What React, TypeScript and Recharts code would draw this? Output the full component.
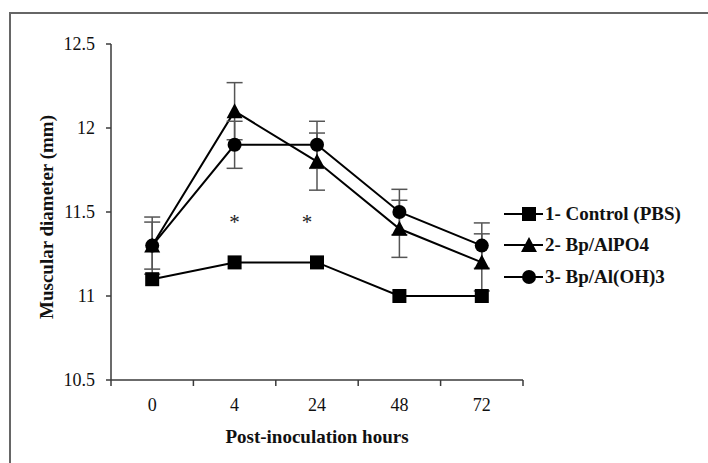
import { LineChart, Line, XAxis, YAxis, ErrorBar, Label, Legend } from 'recharts'

const HOURS = ['0', '4', '24', '48', '72']
const CONTROL = [11.1, 11.2, 11.2, 11.0, 11.0]
const ALPO4 = [11.3, 12.1, 11.8, 11.4, 11.2]
const ALPO4_ERR = [0.17, 0.17, 0.17, 0.17, 0.17]
const ALOH3 = [11.3, 11.9, 11.9, 11.5, 11.3]
const ALOH3_ERR = [0.14, 0.14, 0.14, 0.135, 0.135]
const STARS = [null, 11.45, 11.45, null, null]
const Y_TICKS = [10.5, 11, 11.5, 12, 12.5]

const SERIES = [
  { key: 'control', name: '1- Control (PBS)', shape: 'square' },
  { key: 'alpo4', name: '2- Bp/AlPO4', shape: 'triangle' },
  { key: 'aloh3', name: '3- Bp/Al(OH)3', shape: 'circle' },
]

const data = HOURS.map((h, i) => ({
  hour: h,
  control: CONTROL[i],
  alpo4: ALPO4[i],
  alpo4Err: ALPO4_ERR[i],
  aloh3: ALOH3[i],
  aloh3Err: ALOH3_ERR[i],
  star: STARS[i],
}))

const FONT = '"Liberation Serif", "Times New Roman", serif'
const AXIS = '#3a3a3a'

function marker(shape: string, cx: number, cy: number, key?: any) {
  if (shape === 'square') return <rect key={key} x={cx - 7} y={cy - 7} width={14} height={14} fill="#000" />
  if (shape === 'triangle')
    return <polygon key={key} points={`${cx},${cy - 8} ${cx - 8},${cy + 7} ${cx + 8},${cy + 7}`} fill="#000" />
  return <circle key={key} cx={cx} cy={cy} r={7} fill="#000" />
}

const dotFor = (shape: string) => (p: any) => {
  if (p.cx == null || p.cy == null) return <g key={p.key} />
  return marker(shape, p.cx, p.cy, p.key)
}

// asterisks marking significance; the second one sits a little left of its category
const starDot = (p: any) => {
  if (p.cx == null || p.cy == null || p.value == null) return <g key={p.key} />
  const dx = p.index === 2 ? -10 : 0
  return (
    <text key={p.key} x={p.cx + dx} y={p.cy + 9} textAnchor="middle" fontSize={21} fontFamily={FONT} fill="#222">
      *
    </text>
  )
}

const XTick = (props: any) => {
  const { x, y, payload } = props
  const half = payload.offset || 41.2
  const last = payload.index === HOURS.length - 1
  return (
    <g>
      <line x1={x - half} x2={x - half} y1={y} y2={y + 6} stroke={AXIS} strokeWidth={1.5} />
      {last && <line x1={x + half} x2={x + half} y1={y} y2={y + 6} stroke={AXIS} strokeWidth={1.5} />}
      <text x={x} y={y + 31} textAnchor="middle" fontSize={18} fontFamily={FONT} fill="#111">
        {payload.value}
      </text>
    </g>
  )
}

const LegendBox = () => (
  <div style={{ fontFamily: FONT, fontWeight: 'bold', fontSize: 19, color: '#111' }}>
    {SERIES.map((s) => (
      <div key={s.key} style={{ display: 'flex', alignItems: 'center', height: 31.5 }}>
        <svg width={42} height={20} style={{ marginLeft: 3 }}>
          <line x1={1} x2={40} y1={10} y2={10} stroke="#000" strokeWidth={2} />
          {marker(s.shape, 26, 10)}
        </svg>
        <span>{s.name}</span>
      </div>
    ))}
  </div>
)

export default function App() {
  return (
    <div style={{ position: 'absolute', left: 0, top: 0, width: 708, height: 463, background: '#fff', overflow: 'hidden' }}>
      <div
        style={{
          position: 'absolute',
          left: 9,
          top: 12,
          right: -4,
          bottom: -4,
          borderLeft: '2px solid #666',
          borderTop: '2px solid #666',
        }}
      />
      <div style={{ position: 'absolute', left: 0, top: 0 }}>
        <LineChart width={708} height={463} data={data} margin={{ top: 44, right: 185, bottom: 0, left: 0 }}>
          <XAxis
            dataKey="hour"
            scale="band"
            height={83}
            tickLine={false}
            tickSize={0}
            tickMargin={0}
            axisLine={{ stroke: AXIS, strokeWidth: 1.5 }}
            tick={<XTick />}
            interval={0}
          >
            <Label
              content={({ viewBox }: any) => (
                <text
                  x={viewBox.x + viewBox.width / 2}
                  y={viewBox.y + 63}
                  textAnchor="middle"
                  fontSize={19}
                  fontWeight="bold"
                  fontFamily={FONT}
                  fill="#111"
                >
                  Post-inoculation hours
                </text>
              )}
            />
          </XAxis>
          <YAxis
            width={111}
            domain={[10.5, 12.5]}
            ticks={Y_TICKS}
            tickSize={5}
            tickMargin={11}
            axisLine={{ stroke: AXIS, strokeWidth: 1.5 }}
            tickLine={{ stroke: AXIS, strokeWidth: 1.5 }}
            tick={{ fontSize: 18, fontFamily: FONT, fill: '#111' }}
          >
            <Label
              content={({ viewBox }: any) => {
                const cx = 46
                const cy = viewBox.y + viewBox.height / 2 + 5
                return (
                  <text
                    x={cx}
                    y={cy}
                    transform={`rotate(-90, ${cx}, ${cy})`}
                    textAnchor="middle"
                    dominantBaseline="central"
                    fontSize={19}
                    fontWeight="bold"
                    fontFamily={FONT}
                    fill="#111"
                  >
                    Muscular diameter (mm)
                  </text>
                )
              }}
            />
          </YAxis>
          <Legend
            layout="horizontal"
            align="center"
            verticalAlign="middle"
            content={<LegendBox />}
            wrapperStyle={{ left: 500, top: 198, width: 208 }}
          />
          <Line dataKey="control" stroke="#000" strokeWidth={2} dot={dotFor('square')} isAnimationActive={false} />
          <Line dataKey="alpo4" stroke="#000" strokeWidth={2} dot={dotFor('triangle')} isAnimationActive={false}>
            <ErrorBar dataKey="alpo4Err" width={8} stroke="#555" strokeWidth={1.5} direction="y" />
          </Line>
          <Line dataKey="aloh3" stroke="#000" strokeWidth={2} dot={dotFor('circle')} isAnimationActive={false}>
            <ErrorBar dataKey="aloh3Err" width={8} stroke="#555" strokeWidth={1.5} direction="y" />
          </Line>
          <Line dataKey="star" stroke="none" dot={starDot} activeDot={false} legendType="none" isAnimationActive={false} />
        </LineChart>
      </div>
    </div>
  )
}
